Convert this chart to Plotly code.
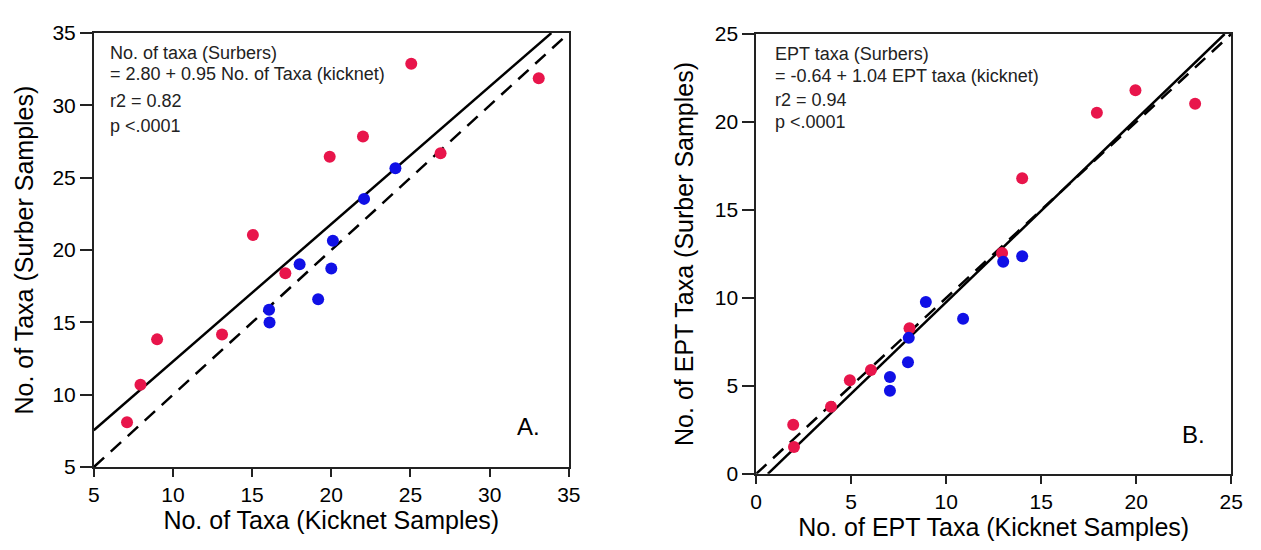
import numpy as np
import plotly.graph_objects as go

# Panel A: total number of taxa
a_red_kick = [7.1, 7.95, 9.0, 13.1, 15.05, 17.1, 19.9, 22.0, 25.05, 26.9, 33.1]
a_red_surb = [8.1, 10.7, 13.83, 14.16, 21.05, 18.4, 26.46, 27.85, 32.88, 26.7, 31.87]
a_blue_kick = [16.07, 16.1, 18.0, 19.17, 20.0, 20.1, 22.07, 24.05]
a_blue_surb = [15.88, 15.0, 19.02, 16.6, 18.73, 20.65, 23.54, 25.66]
a_fit = (2.80, 0.95)      # intercept, slope
a_range = [5, 35]
a_ticks = [5, 10, 15, 20, 25, 30, 35]

# Panel B: EPT taxa
b_red_kick = [1.95, 1.99, 3.94, 4.93, 6.04, 8.07, 12.94, 14.0, 17.93, 19.96, 23.1]
b_red_surb = [2.79, 1.53, 3.82, 5.32, 5.9, 8.28, 12.55, 16.8, 20.53, 21.8, 21.04]
b_blue_kick = [7.04, 7.04, 7.99, 8.03, 8.93, 10.89, 13.0, 14.0]
b_blue_surb = [5.51, 4.73, 6.35, 7.73, 9.77, 8.82, 12.06, 12.37]
b_fit = (-0.64, 1.04)
b_range = [0, 25]
b_ticks = [0, 5, 10, 15, 20, 25]

RED = "#e8154b"
BLUE = "#1010e6"
FONT = "Liberation Sans, Arial, sans-serif"


def fit_segment(fit, rng):
    b0, b1 = fit
    x0 = max(rng[0], (rng[0] - b0) / b1)
    x1 = min(rng[1], (rng[1] - b0) / b1)
    xs = np.array([x0, x1])
    return xs, b0 + b1 * xs


fig = go.Figure()

panels = [
    ("x", "y", a_red_kick, a_red_surb, a_blue_kick, a_blue_surb, a_fit, a_range),
    ("x2", "y2", b_red_kick, b_red_surb, b_blue_kick, b_blue_surb, b_fit, b_range),
]
for xa, ya, rk, rs, bk, bs, fit, rng in panels:
    # 1:1 reference line
    fig.add_trace(go.Scatter(x=rng, y=rng, mode="lines", xaxis=xa, yaxis=ya,
                             line=dict(color="black", width=2.5, dash="14px,9px"),
                             showlegend=False, hoverinfo="skip"))
    # regression line
    lx, ly = fit_segment(fit, rng)
    fig.add_trace(go.Scatter(x=lx, y=ly, mode="lines", xaxis=xa, yaxis=ya,
                             line=dict(color="black", width=2.5),
                             showlegend=False, hoverinfo="skip"))
    fig.add_trace(go.Scatter(x=rk, y=rs, mode="markers", xaxis=xa, yaxis=ya,
                             marker=dict(color=RED, size=12),
                             showlegend=False))
    fig.add_trace(go.Scatter(x=bk, y=bs, mode="markers", xaxis=xa, yaxis=ya,
                             marker=dict(color=BLUE, size=12),
                             showlegend=False))

axis_common = dict(showline=True, linecolor="#222", linewidth=1.5, mirror=True,
                   showgrid=False, zeroline=False, ticks="outside",
                   tickcolor="#222", tickwidth=1.5,
                   tickfont=dict(family=FONT, size=21, color="black"))

fig.update_layout(
    width=1261, height=550,
    margin=dict(l=0, r=0, t=0, b=0),
    paper_bgcolor="white", plot_bgcolor="white",
    font=dict(family=FONT, color="black"),
    xaxis=dict(axis_common, domain=[0.0706, 0.4528], range=a_range,
               tickvals=a_ticks, ticklen=8, anchor="y",
               title=dict(text="No. of Taxa (Kicknet Samples)",
                          font=dict(size=25), standoff=6)),
    yaxis=dict(axis_common, domain=[0.1364, 0.96], range=a_range,
               tickvals=a_ticks, ticklen=12, anchor="x",
               title=dict(text="No. of Taxa (Surber Samples)",
                          font=dict(size=25), standoff=12)),
    xaxis2=dict(axis_common, domain=[0.6035, 0.9857], range=b_range,
                tickvals=b_ticks, ticklen=8, anchor="y2",
                title=dict(text="No. of EPT Taxa (Kicknet Samples)",
                           font=dict(size=25), standoff=6)),
    yaxis2=dict(axis_common, domain=[0.1236, 0.9582], range=b_range,
                tickvals=b_ticks, ticklen=12, anchor="x2",
                title=dict(text="No. of EPT Taxa (Surber Samples)",
                           font=dict(size=25), standoff=14)),
)

# regression statistics text
a_lines = [("No. of taxa (Surbers)", 43),
           ("= 2.80 + 0.95 No. of Taxa (kicknet)", 65),
           ("r2 = 0.82", 93),
           ("p <.0001", 119)]
b_lines = [("EPT taxa (Surbers)", 44),
           ("= -0.64 + 1.04 EPT taxa (kicknet)", 67),
           ("r2 = 0.94", 92),
           ("p <.0001", 115)]
for lines, x0 in ((a_lines, 103), (b_lines, 778)):
    for txt, ypix in lines:
        fig.add_annotation(text=txt, xref="paper", yref="paper",
                           x=x0 / 1261, y=1 - ypix / 550,
                           xanchor="left", yanchor="middle", showarrow=False,
                           font=dict(family=FONT, size=18, color="#222"))

for lbl, xp, yp in (("A.", 530, 433), ("B.", 1205, 441)):
    fig.add_annotation(text=lbl, xref="paper", yref="paper",
                       x=xp / 1261, y=1 - yp / 550, xanchor="center",
                       yanchor="middle", showarrow=False,
                       font=dict(family=FONT, size=24, color="black"))

fig.write_html("out.html")
